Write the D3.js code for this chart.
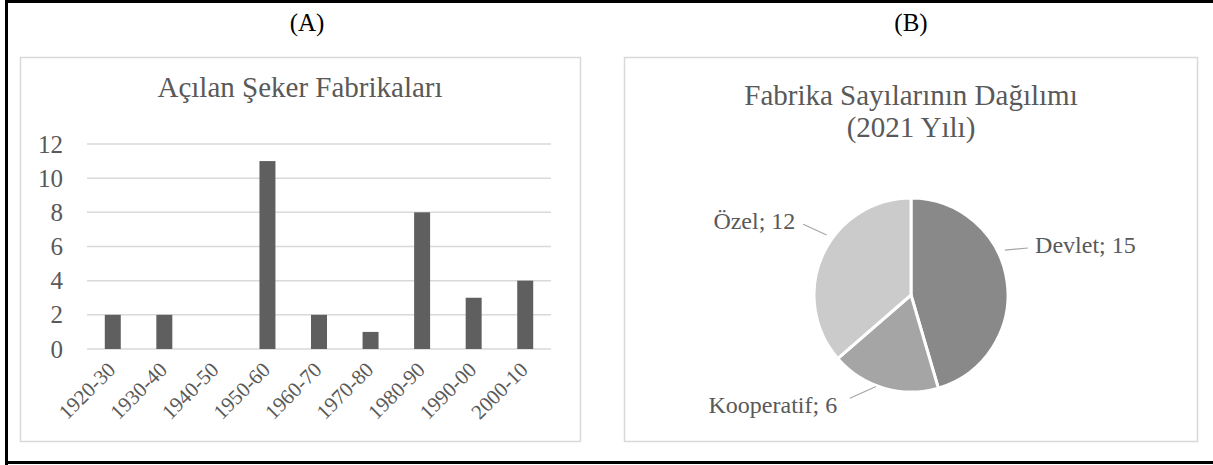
<!DOCTYPE html>
<html>
<head>
<meta charset="utf-8">
<script src="https://cdn.jsdelivr.net/npm/d3@7"></script>
<style>
  body { margin: 0; background: #fff; }
  svg text { font-family: "Liberation Serif", "Times New Roman", serif; }
</style>
</head>
<body>
<svg id="chart" width="1213" height="465"></svg>
<script>
// (A) bar chart data
var decades = ["1920-30", "1930-40", "1940-50", "1950-60", "1960-70", "1970-80", "1980-90", "1990-00", "2000-10"];
var factoriesOpened = [2, 2, 0, 11, 2, 1, 8, 3, 4];
var yTicks = [0, 2, 4, 6, 8, 10, 12];

// (B) pie chart data
var ownerTypes = ["Devlet", "Kooperatif", "Özel"];
var ownerCounts = [15, 6, 12];
var sliceColors = ["#898989", "#a5a5a5", "#cbcbcb"];

var textColor = "#595959";
var svg = d3.select("#chart");

// outer frame (left, top, bottom)
svg.append("path")
  .attr("d", "M6.5,465 L6.5,1.5 L1213,1.5 M6.5,462.5 L1213,462.5")
  .attr("fill", "none").attr("stroke", "#000").attr("stroke-width", 3);

// panel letters
svg.append("text").attr("x", 307).attr("y", 31).attr("text-anchor", "middle")
  .attr("font-size", 25).attr("fill", "#000").text("(A)");
svg.append("text").attr("x", 911).attr("y", 31).attr("text-anchor", "middle")
  .attr("font-size", 25).attr("fill", "#000").text("(B)");

// chart boxes
svg.append("rect").attr("x", 20.5).attr("y", 57.5).attr("width", 560).attr("height", 384)
  .attr("fill", "#fff").attr("stroke", "#d9d9d9").attr("stroke-width", 1.5);
svg.append("rect").attr("x", 624.5).attr("y", 57.5).attr("width", 573).attr("height", 384)
  .attr("fill", "#fff").attr("stroke", "#d9d9d9").attr("stroke-width", 1.5);

// ---- (A) bar chart ----
var x = d3.scaleBand().domain(decades).range([87, 551])
  .paddingInner(0.69).paddingOuter(0.345);
var y = d3.scaleLinear().domain([0, 12]).range([349, 144]);

svg.append("text").attr("x", 300).attr("y", 97).attr("text-anchor", "middle")
  .attr("font-size", 29).attr("fill", textColor).text("Açılan Şeker Fabrikaları");

var grid = svg.append("g");
grid.selectAll("line").data(yTicks).enter().append("line")
  .attr("x1", 87).attr("x2", 551)
  .attr("y1", function(d){ return y(d); }).attr("y2", function(d){ return y(d); })
  .attr("stroke", "#d9d9d9").attr("stroke-width", 1.5);

grid.selectAll("text").data(yTicks).enter().append("text")
  .attr("x", 63).attr("y", function(d){ return y(d); }).attr("dy", "0.34em")
  .attr("text-anchor", "end").attr("font-size", 25).attr("fill", textColor)
  .text(function(d){ return d; });

svg.append("g").selectAll("rect").data(factoriesOpened).enter().append("rect")
  .attr("x", function(d, i){ return x(decades[i]); })
  .attr("width", x.bandwidth())
  .attr("y", function(d){ return y(d); })
  .attr("height", function(d){ return y(0) - y(d); })
  .attr("fill", "#5f5f5f");

svg.append("g").selectAll("text").data(decades).enter().append("text")
  .attr("transform", function(d){
    return "translate(" + (x(d) + x.bandwidth() / 2 + 4) + "," + (y(0) + 22) + ") rotate(-45)";
  })
  .attr("text-anchor", "end").attr("font-size", 21).attr("fill", textColor)
  .text(function(d){ return d; });

// ---- (B) pie chart ----
var cx = 911, cy = 295, r = 97;
var toRad = Math.PI / 180;
// label placement: angle (deg, clockwise from top) and distance from centre
var labelAngle = [71.3, 212.1, 299.6];
var labelDist = [131, 139, 133];
var leaderInner = [[64.4, 104], [200.9, 98], [305.4, 103.5]];
var leaderOuter = [[68.1, 126], [210.6, 120], [303.3, 129]];

var pieTitle = svg.append("text").attr("x", 911).attr("text-anchor", "middle")
  .attr("font-size", 29).attr("fill", textColor);
pieTitle.append("tspan").attr("x", 911).attr("y", 105).text("Fabrika Sayılarının Dağılımı");
pieTitle.append("tspan").attr("x", 911).attr("y", 137).text("(2021 Yılı)");

var pie = d3.pie().sort(null)(ownerCounts);
var arc = d3.arc().innerRadius(0).outerRadius(r);
var pg = svg.append("g").attr("transform", "translate(" + cx + "," + cy + ")");

pg.selectAll("path").data(pie).enter().append("path")
  .attr("d", arc)
  .attr("fill", function(d, i){ return sliceColors[i]; })
  .attr("stroke", "#fff").attr("stroke-width", 3).attr("stroke-linejoin", "round");

function polar(deg, dist) {
  return [Math.sin(deg * toRad) * dist, -Math.cos(deg * toRad) * dist];
}

pg.selectAll("line").data(pie).enter().append("line")
  .each(function(d, i) {
    var a = polar(leaderInner[i][0], leaderInner[i][1]);
    var b = polar(leaderOuter[i][0], leaderOuter[i][1]);
    d3.select(this).attr("x1", a[0]).attr("y1", a[1]).attr("x2", b[0]).attr("y2", b[1]);
  })
  .attr("stroke", "#a6a6a6").attr("stroke-width", 1.2);

pg.selectAll("text").data(pie).enter().append("text")
  .each(function(d, i) {
    var p = polar(labelAngle[i], labelDist[i]);
    d3.select(this).attr("x", p[0]).attr("y", p[1])
      .attr("text-anchor", p[0] > 0 ? "start" : "end");
  })
  .attr("font-size", 24).attr("fill", textColor)
  .text(function(d, i){ return ownerTypes[i] + "; " + ownerCounts[i]; });
</script>
</body>
</html>
